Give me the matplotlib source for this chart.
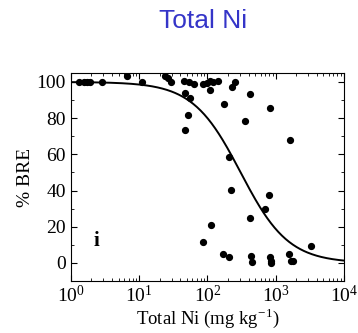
import matplotlib
matplotlib.use("Agg")
import matplotlib.pyplot as plt
from matplotlib.ticker import LogLocator
import numpy as np

# total Ni (mg/kg) vs % BRE
total_ni = [1.31, 1.55, 1.72, 1.90, 2.85, 6.6, 11.0, 24.2, 26.4, 29.7,
            45.3, 53.6, 63.4, 46.8, 55.4, 52.3, 46.8, 85.9, 98.4, 108.8,
            120.4, 108.8, 144, 253, 232, 426, 175, 824, 360, 1617,
            210, 221, 804, 707, 420, 112.5, 86.8, 167, 209, 434,
            449, 810, 838, 851, 1580, 1645, 1760, 3283]
bre = [100, 100, 100, 100, 100, 103.1, 100, 103.5, 102.1, 100.2,
       100.5, 100, 98.9, 93.8, 91.0, 81.7, 73.3, 98.9, 99.6, 100.3,
       100.1, 95.3, 100.3, 100, 97.5, 93.2, 87.9, 85.5, 78.3, 68.0,
       58.4, 40.3, 37.4, 30.0, 25.0, 20.7, 11.4, 5.0, 3.2, 3.8,
       0.8, 3.2, 0.9, -0.3, 5.2, 1.1, 1.0, 9.5]

# fitted dose-response curve parameters
fit_top = 100.0
fit_bottom = 0.0
fit_log_x50 = 2.486
fit_hill = 1.24

plt.rcParams['font.family'] = ['Liberation Serif', 'DejaVu Serif']
plt.rcParams['mathtext.fontset'] = 'stix'

fig = plt.figure(figsize=(3.58, 3.33), dpi=100)
ax = fig.add_axes([0.198, 0.156, 0.763, 0.625])

xs = np.logspace(0, 4, 300)
ys = fit_bottom + (fit_top - fit_bottom) / (1 + 10 ** (fit_hill * (np.log10(xs) - fit_log_x50)))
ax.plot(xs, ys, color='black', lw=1.4)
ax.plot(total_ni, bre, 'o', color='black', ms=4.2, mec='black')

ax.set_xscale('log')
ax.set_xlim(1, 1e4)
ax.xaxis.set_major_locator(LogLocator(base=10, numticks=10))
ax.xaxis.set_minor_locator(LogLocator(base=10, subs=np.arange(2, 10), numticks=10))
ax.set_ylim(-10, 105)
ax.set_yticks([0, 20, 40, 60, 80, 100])
ax.set_yticks(np.arange(-10, 105, 10), minor=True)
ax.tick_params(which='both', direction='in', top=True, right=True, labelsize=14)
ax.tick_params(which='major', length=4)
ax.tick_params(which='minor', length=2)
ax.tick_params(axis='x', pad=3)
ax.tick_params(axis='x', which='minor', labelbottom=False)

ax.set_xlabel('Total Ni (mg kg$^{\\mathregular{-1}}$)', fontsize=13.5, labelpad=0)
ax.set_ylabel('% BRE', fontsize=14, labelpad=2)
ax.text(2.4, 12, 'i', fontsize=15, fontweight='bold', ha='center', va='center')

fig.text(0.567, 0.937, 'Total Ni', color='#3535c8', fontsize=19,
         family='Liberation Sans', ha='center', va='center')

fig.savefig('out.png', dpi=100)
